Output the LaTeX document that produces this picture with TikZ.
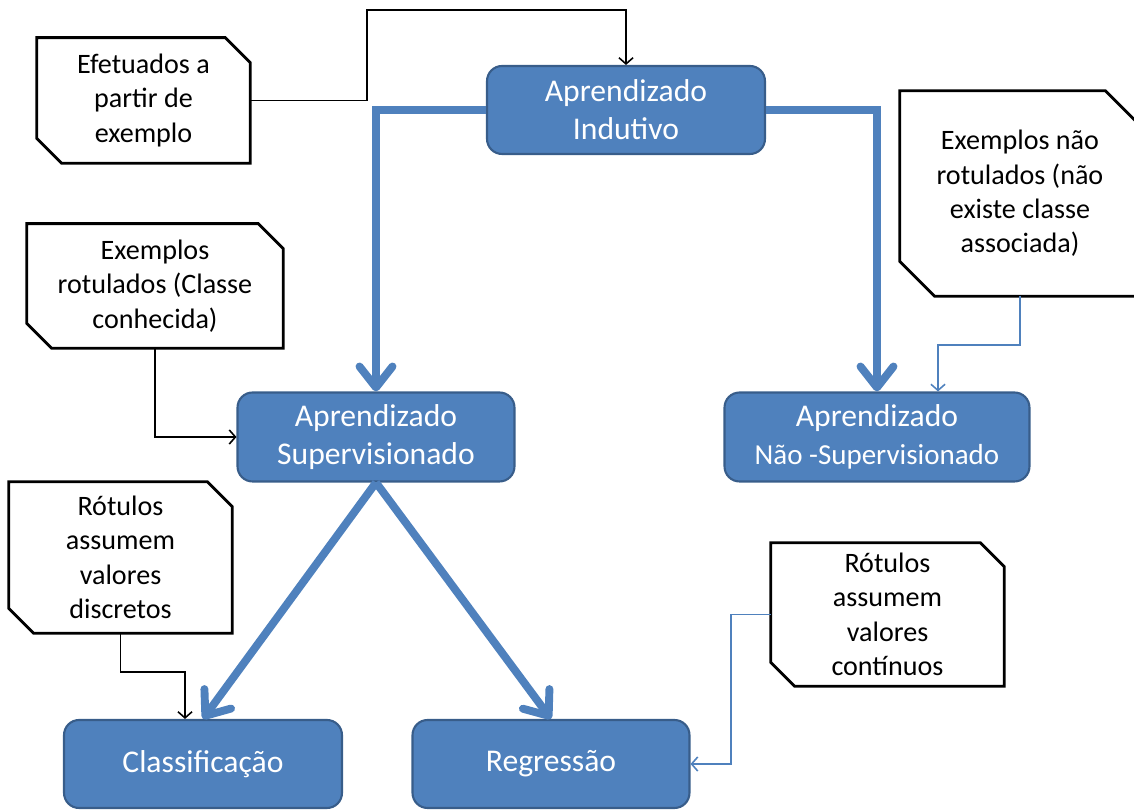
\documentclass[tikz,border=0pt]{standalone}
\usepackage{fontspec}
\setmainfont{Carlito}
\usepackage{xcolor}
\usepackage{tikz}
\usetikzlibrary{arrows.meta}
\definecolor{boxblue}{RGB}{79, 129, 189}
\definecolor{boxedge}{RGB}{56, 93, 138}

\begin{document}
\begin{tikzpicture}[x={(0.02cm,0)}, y={(0,-0.02cm)},
    etapa/.style={rounded corners=0.3cm, fill=boxblue, draw=boxedge, line width=1.2pt, text=white, align=center, font={\fontsize{18}{21.5}\selectfont}},
    nota/.style={rectangle, align=center, inner sep=0pt, font={\fontsize{16}{19.6}\selectfont}},
    borda/.style={draw=black, line width=1.6pt},
    seta/.style={line width=4.5pt, boxblue, -{Straight Barb[length=0.42cm, width=0.66cm, round]}},
    liga/.style={line width=0.9pt, black, -{Straight Barb[length=3.5pt, width=8pt]}},
    ligaazul/.style={line width=0.9pt, boxblue, -{Straight Barb[length=3.5pt, width=8pt]}}]
            \useasboundingbox (0,0) rectangle (1134,810);

            % etapas
            \node[etapa, minimum width=5.56cm, minimum height=1.76cm] (indutivo) at (626, 110) {Aprendizado\\Indutivo};
            \node[etapa, minimum width=5.54cm, minimum height=1.78cm] (superv) at (376, 437) {Aprendizado\\Supervisionado};
            \node[etapa, minimum width=6.1cm, minimum height=1.78cm] (naosup) at (877, 437) {Aprendizado\\{\fontsize{16.5}{19}\selectfont Não -Supervisionado}};
            \node[etapa, minimum width=5.56cm, minimum height=1.76cm] (classif) at (203, 764) {Classificação};
            \node[etapa, minimum width=5.54cm, minimum height=1.76cm] (regress) at (551, 764) {Regressão};

            % notas
            \node[nota, minimum width=4.26cm, minimum height=2.5cm] (efet) at (143.5, 100.5) {Efetuados a\\partir de\\exemplo};
            \node[nota, minimum width=5.12cm, minimum height=2.48cm] (rotul) at (155, 286) {Exemplos\\rotulados (Classe\\conhecida)};
            \node[nota, minimum width=4.8cm, minimum height=4.1cm] (naorot) at (1020, 193.5) {Exemplos não\\rotulados (não\\existe classe\\associada)};
            \node[nota, minimum width=4.46cm, minimum height=3.02cm] (disc) at (120.5, 557.5) {Rótulos\\assumem\\valores\\discretos};
            \node[nota, minimum width=4.66cm, minimum height=2.86cm] (cont) at (887.5, 614.5) {Rótulos\\assumem\\valores\\contínuos};

            % cantos cortados das notas
            \foreach \n/\c in {efet/0.5cm, rotul/0.5cm, naorot/0.7cm, disc/0.5cm, cont/0.48cm}
                \draw[borda] (\n.north west) -- ([xshift=-\c]\n.north east) -- ([yshift=-\c]\n.north east) -- (\n.south east) -- ([xshift=\c]\n.south west) -- ([yshift=\c]\n.south west) -- cycle;

            % setas
            \draw[seta] (indutivo.west) -| (superv.north);
            \draw[seta] (indutivo.east) -| (naosup.north);
            \draw[seta] (superv.south) -- (classif.north);
            \draw[seta] (superv.south) -- (regress.north);

            \draw[liga] (efet.east) -| (367, 10) -| (indutivo.north);
            \draw[liga] (rotul.south) |- (superv.west);
            \draw[ligaazul] (naorot.south) |- (938, 345) -- (naosup.north -| 938, 0);
            \draw[liga] (disc.south) |- (185, 672) -- (classif.north -| 185, 0);
            \draw[ligaazul] (cont.west) -| (731, 764) -- (regress.east);
        \end{tikzpicture}
\end{document}
